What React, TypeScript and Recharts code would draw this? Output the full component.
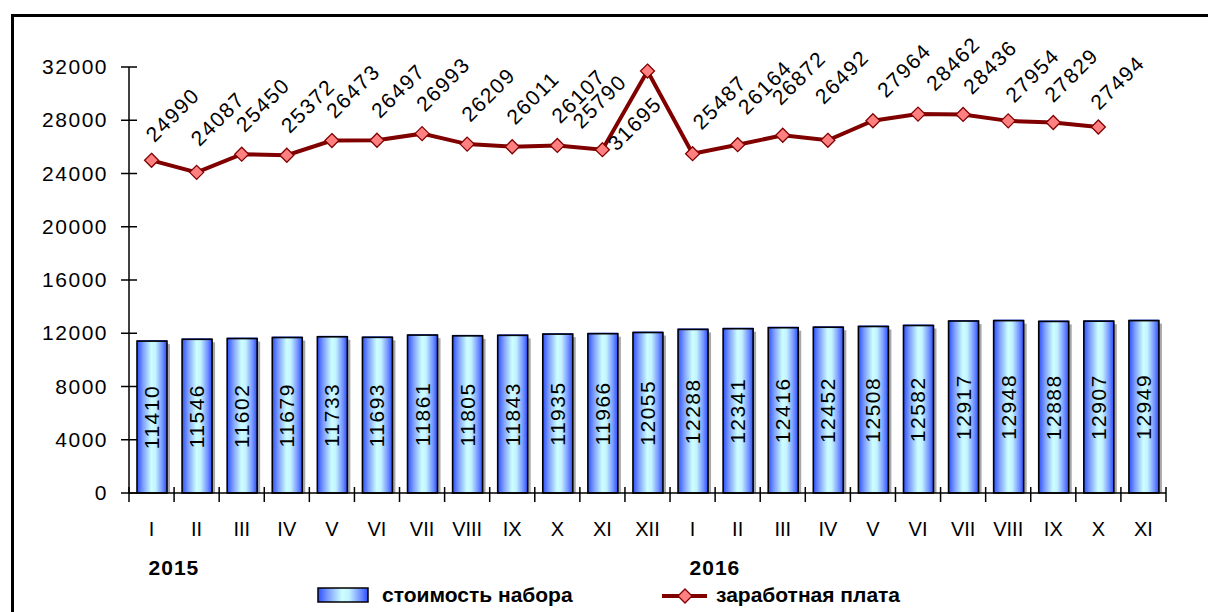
import React from 'react';
import { ComposedChart, Bar, Line, XAxis, YAxis, LabelList, Legend } from 'recharts';

const months = ['I', 'II', 'III', 'IV', 'V', 'VI', 'VII', 'VIII', 'IX', 'X', 'XI', 'XII', 'I', 'II', 'III', 'IV', 'V', 'VI', 'VII', 'VIII', 'IX', 'X', 'XI'];
const years = ['2015', '', '', '', '', '', '', '', '', '', '', '', '2016', '', '', '', '', '', '', '', '', '', ''];
const basket = [11410, 11546, 11602, 11679, 11733, 11693, 11861, 11805, 11843, 11935, 11966, 12055, 12288, 12341, 12416, 12452, 12508, 12582, 12917, 12948, 12888, 12907, 12949];
const salary: (number | null)[] = [24990, 24087, 25450, 25372, 26473, 26497, 26993, 26209, 26011, 26107, 25790, 31695, 25487, 26164, 26872, 26492, 27964, 28462, 28436, 27954, 27829, 27494, null];
const yTicks = [0, 4000, 8000, 12000, 16000, 20000, 24000, 28000, 32000];

const data = months.map((m, i) => ({ month: m, year: years[i], basket: basket[i], salary: salary[i] }));

const FONT = '"Liberation Sans", Arial, sans-serif';
const W = 1208;
const H = 612;
const MARGIN = { top: 67, right: 42, bottom: 4, left: 0 };
const Y_AXIS_W = 129;
const STEP = (W - Y_AXIS_W - MARGIN.right) / months.length;

// label placement tweaks (style only), keyed by point index: [dx, dy, anchor]
const DEFAULT_LABEL_OFFSET: [number, number] = [3, -21];
const LABEL_OFFSETS: Record<number, [number, number]> = {
  0: [3, -17],
  1: [3, -25],
  10: [-21, -20],
  11: [-31, 81],
  12: [9, -23],
  13: [9, -29],
  14: [-2, -29],
  15: [-4, -35],
  16: [13, -22],
  17: [17, -22],
  18: [9, -19],
  19: [6, -17],
  20: [0, -19],
  21: [1, -16],
};

const YTick = (props: any) => {
  const { x, y, payload } = props;
  return (
    <g>
      <line x1={x - 8} x2={x + 8} y1={y} y2={y} stroke="#000" strokeWidth={1.5} />
      <text x={x - 21} y={y} dy={7} textAnchor="end" fontFamily={FONT} fontSize={21} letterSpacing={1.5} fill="#000">
        {payload.value}
      </text>
    </g>
  );
};

const XTick = (props: any) => {
  const { x, y, payload, index } = props;
  const i = typeof index === 'number' ? index : payload.index;
  const yr = years[i];
  return (
    <g>
      <line x1={x - STEP / 2} x2={x - STEP / 2} y1={y - 6} y2={y + 9} stroke="#000" strokeWidth={1.5} />
      {i === months.length - 1 && (
        <line x1={x + STEP / 2} x2={x + STEP / 2} y1={y - 6} y2={y + 9} stroke="#000" strokeWidth={1.5} />
      )}
      <text x={x} y={y + 43} textAnchor="middle" fontFamily={FONT} fontSize={20} fill="#000">
        {payload.value}
      </text>
      {yr && (
        <text x={x - 3} y={y + 82} textAnchor="start" fontFamily={FONT} fontSize={21} fontWeight="bold" letterSpacing={1} fill="#000">
          {yr}
        </text>
      )}
    </g>
  );
};

const BarShape = (props: any) => {
  const { x, y, width, height } = props;
  if (height == null || height <= 0) return null;
  return (
    <g>
      <rect x={x + 3} y={y + 3} width={width} height={Math.max(0, height - 3)} fill="#a8a8a8" />
      <rect x={x} y={y - 1} width={width} height={2} fill="#3355ff" />
      <rect x={x} y={y} width={width} height={height} fill="url(#barGrad)" stroke="#000" strokeWidth={1.6} />
    </g>
  );
};

const BarLabel = (props: any) => {
  const { x, y, width, height, value } = props;
  const cx = x + width / 2;
  const cy = y + height / 2;
  return (
    <text x={cx} y={cy} dy={7} textAnchor="middle" transform={`rotate(-90 ${cx} ${cy})`} fontFamily={FONT} fontSize={21} letterSpacing={1.5} fill="#000">
      {value}
    </text>
  );
};

const LineLabel = (props: any) => {
  const { x, y, value, index } = props;
  if (value == null || x == null || y == null) return null;
  const [dx, dy] = LABEL_OFFSETS[index] ?? DEFAULT_LABEL_OFFSET;
  const lx = x + dx;
  const ly = y + dy;
  return (
    <text x={lx} y={ly} textAnchor="start" transform={`rotate(-45 ${lx} ${ly})`} fontFamily={FONT} fontSize={21} letterSpacing={1.5} fill="#000">
      {value}
    </text>
  );
};

const Diamond = (props: any) => {
  const { cx, cy, index } = props;
  if (cx == null || cy == null || salary[index] == null) return <g key={`d${index}`} />;
  const r = 7;
  return (
    <path
      key={`d${index}`}
      d={`M${cx},${cy - r} L${cx + r},${cy} L${cx},${cy + r} L${cx - r},${cy} Z`}
      fill="#ff8080"
      stroke="#800000"
      strokeWidth={1.3}
    />
  );
};

const LegendContent = () => (
  <svg width={W} height={24} style={{ display: 'block' }}>
    <defs>
      <linearGradient id="legGrad" x1="0" y1="0" x2="1" y2="0">
        <stop offset="0%" stopColor="#2a50ff" />
        <stop offset="20%" stopColor="#7d9dff" />
        <stop offset="48%" stopColor="#ccffff" />
        <stop offset="62%" stopColor="#c4f2ff" />
        <stop offset="85%" stopColor="#7393ff" />
        <stop offset="100%" stopColor="#2a4cff" />
      </linearGradient>
    </defs>
    <rect x={318} y={4} width={50} height={14} fill="url(#legGrad)" stroke="#000" strokeWidth={1.5} />
    <text x={382} y={18} fontFamily={FONT} fontSize={21} fontWeight="bold" fill="#000">
      стоимость набора
    </text>
    <line x1={662} x2={707} y1={12} y2={12} stroke="#800000" strokeWidth={4} />
    <path d="M685,5 L692,12 L685,19 L678,12 Z" fill="#ff8080" stroke="#800000" strokeWidth={1.3} />
    <text x={716} y={18} fontFamily={FONT} fontSize={21} fontWeight="bold" fill="#000">
      заработная плата
    </text>
  </svg>
);

export default function App() {
  return (
    <>
      <style>{'html,body{margin:0;padding:0;overflow:hidden;background:#fff}'}</style>
      <div style={{ position: 'relative', width: W, height: H, overflow: 'hidden', background: '#fff' }}>
        <div
          style={{
            position: 'absolute',
            left: 11,
            top: 14,
            width: 1400,
            height: 800,
            border: '3px solid #000',
            boxSizing: 'border-box',
          }}
        />
        <div style={{ position: 'absolute', left: 0, top: 0 }}>
          <ComposedChart width={W} height={H} data={data} margin={MARGIN} barSize={30}>
            <defs>
              <linearGradient id="barGrad" x1="0" y1="0" x2="1" y2="0">
                <stop offset="0%" stopColor="#2a50ff" />
                <stop offset="20%" stopColor="#7d9dff" />
                <stop offset="48%" stopColor="#ccffff" />
                <stop offset="62%" stopColor="#c4f2ff" />
                <stop offset="85%" stopColor="#7393ff" />
                <stop offset="100%" stopColor="#2a4cff" />
              </linearGradient>
            </defs>
            <XAxis
              dataKey="month"
              height={91}
              interval={0}
              tickSize={0}
              tickMargin={0}
              tickLine={false}
              axisLine={{ stroke: '#000', strokeWidth: 1.5 }}
              tick={<XTick />}
            />
            <YAxis
              width={Y_AXIS_W}
              domain={[0, 32000]}
              ticks={yTicks}
              interval={0}
              tickSize={0}
              tickMargin={0}
              tickLine={false}
              axisLine={{ stroke: '#000', strokeWidth: 1.5 }}
              tick={<YTick />}
            />
            <Legend verticalAlign="bottom" wrapperStyle={{ left: 0, width: W, bottom: 4, height: 24 }} content={() => <LegendContent />} />
            <Bar dataKey="basket" name="стоимость набора" shape={<BarShape />} isAnimationActive={false}>
              <LabelList dataKey="basket" content={<BarLabel />} />
            </Bar>
            <Line
              dataKey="salary"
              name="заработная плата"
              stroke="#800000"
              strokeWidth={4}
              dot={<Diamond />}
              activeDot={false}
              isAnimationActive={false}
            >
              <LabelList dataKey="salary" content={<LineLabel />} />
            </Line>
          </ComposedChart>
        </div>
      </div>
    </>
  );
}
